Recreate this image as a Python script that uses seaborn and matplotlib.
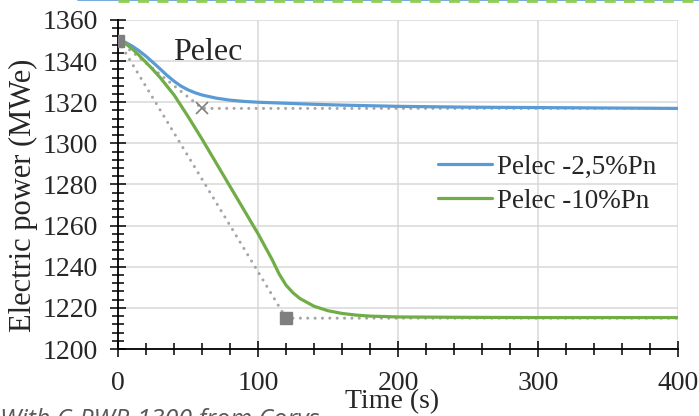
import numpy as np
import pandas as pd
import matplotlib.pyplot as plt
import seaborn as sns
from matplotlib.lines import Line2D
from matplotlib.ticker import MultipleLocator

# simulated electric power (MWe) vs time (s)
time_blue = [0, 5, 10, 15, 20, 25, 30, 35, 40, 45, 50, 55, 60, 70, 80, 90, 100,
             120, 140, 160, 200, 250, 300, 350, 400]
pelec_blue = [1350, 1349.2, 1347.3, 1345, 1342.3, 1339.3, 1336.2, 1333, 1330.2,
              1327.8, 1326, 1324.6, 1323.5, 1322, 1321, 1320.4, 1320,
              1319.5, 1319, 1318.6, 1318, 1317.6, 1317.4, 1317.2, 1317]

time_green = [0, 5, 10, 15, 20, 25, 30, 40, 50, 60, 70, 80, 90, 100, 110,
              115, 120, 125, 130, 140, 150, 160, 170, 180, 200, 250, 300, 400]
pelec_green = [1350, 1348.6, 1346, 1342.8, 1339.3, 1335.8, 1332, 1323.5, 1313,
               1302, 1290.5, 1279, 1267.5, 1256, 1243.5, 1236.5, 1231, 1227.3,
               1224.5, 1220.8, 1218.6, 1217.3, 1216.5, 1216, 1215.6, 1215.4,
               1215.3, 1215.3]

# reference ramps (dotted)
ramp_small_t = [0, 60, 400]
ramp_small_p = [1350, 1317, 1317]
ramp_large_t = [0, 120, 400]
ramp_large_p = [1350, 1215, 1215]

series_names = ["Pelec -2,5%Pn", "Pelec -10%Pn"]
series_colors = ["#5B9BD5", "#70AD47"]

df = pd.concat([
    pd.DataFrame({"Time": time_blue, "Power": pelec_blue, "Case": series_names[0]}),
    pd.DataFrame({"Time": time_green, "Power": pelec_green, "Case": series_names[1]}),
])

sns.set_style("white")
plt.rcParams["font.family"] = ["Liberation Serif", "DejaVu Serif"]

fig = plt.figure(figsize=(6.99, 4.16), dpi=100)
ax = fig.add_axes([0.169, 0.161, 0.801, 0.791])

ax.grid(True, which="major", color="#D9D9D9", linewidth=1.1)
ax.set_axisbelow(True)

dot = (0, (0.01, 2.4))
ax.plot(ramp_small_t, ramp_small_p, color="#A5A5A5", lw=2.2, ls=dot,
        dash_capstyle="round", zorder=2)
ax.plot(ramp_large_t, ramp_large_p, color="#A5A5A5", lw=2.2, ls=dot,
        dash_capstyle="round", zorder=2)

sns.lineplot(data=df, x="Time", y="Power", hue="Case", palette=series_colors,
             linewidth=2.3, ax=ax, zorder=3)

# markers on the ramps
ax.plot(ramp_small_t[1], ramp_small_p[1], marker="x", color="#7F7F7F",
        ms=9, mew=1.2, zorder=4)
ax.plot(ramp_large_t[:2], ramp_large_p[:2], ls="none", marker="s",
        color="#7F7F7F", ms=8.5, zorder=4)

ax.set_xlim(0, 400)
ax.set_ylim(1200, 1360)
ax.xaxis.set_major_locator(MultipleLocator(100))
ax.xaxis.set_minor_locator(MultipleLocator(20))
ax.yaxis.set_major_locator(MultipleLocator(20))
ax.yaxis.set_minor_locator(MultipleLocator(4))

ax.tick_params(which="both", bottom=True, left=True, top=False, right=False)
ax.tick_params(which="major", direction="inout", length=11, width=1.1,
               color="black", labelsize=20)
ax.tick_params(which="minor", direction="inout", length=9, width=1.1,
               color="black")
ax.tick_params(axis="x", pad=10)
ax.tick_params(axis="y", pad=9)

for side in ["top", "right"]:
    ax.spines[side].set_visible(False)
for side in ["left", "bottom"]:
    ax.spines[side].set_color("black")
    ax.spines[side].set_linewidth(1.3)

ax.set_xlabel("Time (s)", fontsize=20)
ax.xaxis.set_label_coords(0.49, -0.122)
ax.set_ylabel("Electric power (MWe)", fontsize=22)
ax.yaxis.set_label_coords(-0.143, 0.468)

ax.text(39, 1344, "Pelec", fontsize=23, va="center", ha="left")

leg = ax.legend(frameon=False, loc="upper left", bbox_to_anchor=(0.571, 0.59),
                fontsize=19.5, handlelength=2.0, handletextpad=0.2,
                labelspacing=0.33, borderaxespad=0, borderpad=0)
for line in leg.get_lines():
    line.set_linewidth(2.3)

# remnants of the figure above (cropped)
fig.add_artist(Line2D([78 / 699, 1], [0.999, 0.999], color="#5B9BD5", lw=1.2,
                      transform=fig.transFigure))
fig.add_artist(Line2D([118 / 699, 1], [0.998, 0.998], color="#92D050", lw=2,
                      ls=(0, (4, 3)), transform=fig.transFigure))

fig.text(0.0, -0.026, "With C-PWR-1300 from Corys", fontsize=18,
         style="italic", family="Open Sans", color="#595959",
         ha="left", va="baseline")

fig.savefig("out.png", dpi=100)
